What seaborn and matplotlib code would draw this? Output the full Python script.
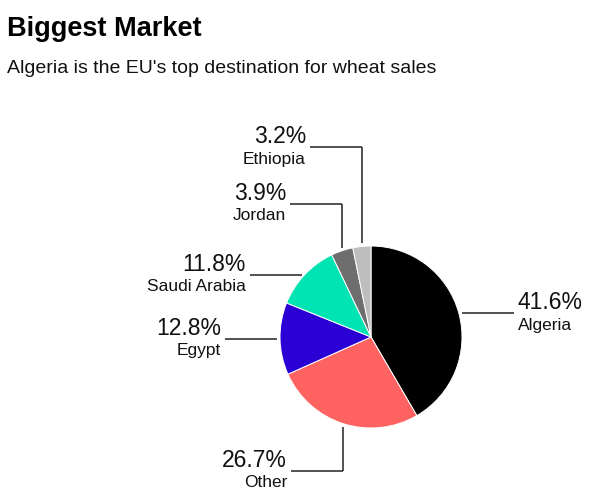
import numpy as np
import matplotlib
matplotlib.use("Agg")
import matplotlib.pyplot as plt
import seaborn as sns

# data, clockwise from 12 o'clock
countries = ["Algeria", "Other", "Egypt", "Saudi Arabia", "Jordan", "Ethiopia"]
shares = [41.6, 26.7, 12.8, 11.8, 3.9, 3.2]
colors = ["#000000", "#ff6361", "#2a00d5", "#00e3b2", "#6e6e6e", "#bdbdbd"]

# leader layout: vertical leg length (px, + up / - down), side of the label
leader_up = {"Algeria": 0, "Other": -44, "Egypt": 0, "Saudi Arabia": 0,
             "Jordan": 44, "Ethiopia": 96}
leader_side = {"Algeria": "right", "Other": "left", "Egypt": "left",
               "Saudi Arabia": "left", "Jordan": "left", "Ethiopia": "left"}

sns.set_style("white")
plt.rcParams["font.family"] = ["Liberation Sans", "DejaVu Sans"]

W, H = 590, 493
fig = plt.figure(figsize=(W / 100, H / 100), dpi=100)
ax = fig.add_axes([0, 0, 1, 1])

# pie geometry in pixels (y measured from the bottom)
cx, cy, r = 371, H - 337, 91
wedges, _ = ax.pie(shares, colors=colors, startangle=90, counterclock=False,
                   center=(cx, cy), radius=r,
                   wedgeprops=dict(linewidth=0.7, edgecolor="white"))

ax.set_xlim(0, W)
ax.set_ylim(0, H)
ax.set_aspect("equal")
ax.axis("off")

gap, hlen = 3, 52
line_kw = dict(color="#222222", lw=1.1, solid_capstyle="butt")
for w, name, val in zip(wedges, countries, shares):
    mid = np.deg2rad((w.theta1 + w.theta2) / 2)
    px, py = cx + r * np.cos(mid), cy + r * np.sin(mid)
    up = leader_up[name]
    sgn = -1 if leader_side[name] == "left" else 1
    if up != 0:
        y0 = py + gap * np.sign(up)
        y1 = py + gap * np.sign(up) + up
        ax.plot([px, px], [y0, y1], **line_kw)
        x0, x1 = px, px + sgn * hlen
        ly = y1
    else:
        x0 = px + sgn * gap
        x1 = x0 + sgn * hlen
        ly = py
        ax.plot([x0, x1], [ly, ly], **line_kw)
    if up != 0:
        ax.plot([x0, x1], [ly, ly], **line_kw)
    tx = x1 + sgn * 4
    ha = "left" if sgn > 0 else "right"
    ax.text(tx, ly + 4, f"{val:.1f}%", ha=ha, va="baseline",
            fontsize=16.5, color="#111111")
    ax.text(tx, ly - 16.5, name, ha=ha, va="baseline",
            fontsize=12.5, color="#111111")

ax.text(7, H - 35.7, "Biggest Market", fontsize=19.5, fontweight="bold",
        va="baseline", color="#000000")
ax.text(7, H - 72.7, "Algeria is the EU's top destination for wheat sales",
        fontsize=14, va="baseline", color="#111111")

fig.savefig("out.png", dpi=100)
